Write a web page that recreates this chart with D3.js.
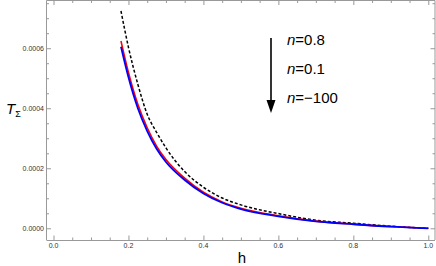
<!DOCTYPE html>
<html><head><meta charset="utf-8">
<script src="https://cdn.jsdelivr.net/npm/d3@7"></script>
<style>body{margin:0;background:#fff}svg{display:block}</style>
</head><body>
<script>
// Data (T_Sigma values in units of 1e-4)
const hVals   = [0.18, 0.2, 0.225, 0.25, 0.275, 0.3, 0.35, 0.4, 0.45, 0.5, 0.6, 0.7, 0.8, 0.9, 1.0];
const nBlue   = [6.05, 5.03, 4.00, 3.24, 2.65, 2.21, 1.61, 1.16, 0.85, 0.64, 0.40, 0.23, 0.135, 0.055, 0];
const nRed    = [6.24, 5.19, 4.13, 3.35, 2.74, 2.29, 1.67, 1.20, 0.88, 0.67, 0.42, 0.24, 0.14, 0.058, 0];
const nDashed = [7.24, 6.03, 4.80, 3.80, 3.20, 2.68, 1.89, 1.37, 1.01, 0.78, 0.49, 0.27, 0.17, 0.07, 0];
const xTicks = [0, 0.2, 0.4, 0.6, 0.8, 1.0];
const yTicks = [0, 0.0002, 0.0004, 0.0006];
const labels = ["n=0.8", "n=0.1", "n=\u2212100"];

const W = 436, H = 266;
const svg = d3.select("body").append("svg").attr("width", W).attr("height", H);
const x = d3.scaleLinear().domain([-0.0187, 1.0179]).range([46.5, 435]);
const y = d3.scaleLinear().domain([-0.000039, 0.000759]).range([240, 0.5]);

const frameCol = "#999";
const g = svg.append("g");
const minorX = d3.range(0, 1.0001, 0.05);
const minorY = d3.range(0, 0.00076, 0.00005);
function isMajor(v, arr){return arr.some(t=>Math.abs(t-v)<1e-9);}
// bottom
const gb = g.append("g").attr("transform","translate(0,240)").call(d3.axisBottom(x).tickValues(minorX).tickSizeOuter(0).tickFormat(""));
gb.select(".domain").attr("stroke", frameCol).attr("d", `M46.5,0.5H435`);
gb.selectAll(".tick line").attr("stroke", frameCol).attr("y2", d=>isMajor(d,xTicks)?-4.5:-2.5);
// top
const gt = g.append("g").attr("transform","translate(0,0.5)").call(d3.axisTop(x).tickValues(minorX).tickSizeOuter(0).tickFormat(""));
gt.select(".domain").attr("stroke", frameCol).attr("d", `M46.5,0H435`);
gt.selectAll(".tick line").attr("stroke", frameCol).attr("y2", d=>isMajor(d,xTicks)?4.5:2.5);
// left
const gl = g.append("g").attr("transform","translate(46.5,0)").call(d3.axisLeft(y).tickValues(minorY).tickSizeOuter(0).tickFormat(""));
gl.select(".domain").attr("stroke", frameCol).attr("d", `M0,0.5V240`);
gl.selectAll(".tick line").attr("stroke", frameCol).attr("x2", d=>isMajor(d,yTicks)?4.5:2.5);
// right
const gr = g.append("g").attr("transform","translate(435,0)").call(d3.axisRight(y).tickValues(minorY).tickSizeOuter(0).tickFormat(""));
gr.select(".domain").attr("stroke", frameCol).attr("d", `M0,0.5V240`);
gr.selectAll(".tick line").attr("stroke", frameCol).attr("x2", d=>isMajor(d,yTicks)?-4.5:-2.5);

// tick labels
const lf = "'Liberation Sans', Arial, sans-serif";
g.selectAll(".xl").data(xTicks).enter().append("text")
  .attr("x", d=>x(d)).attr("y", 248).attr("text-anchor","middle")
  .attr("font-family", lf).attr("font-size", 7).attr("fill","#333")
  .text(d=>d3.format(".1f")(d));
g.selectAll(".yl").data(yTicks).enter().append("text")
  .attr("x", 44).attr("y", d=>y(d)+2.5).attr("text-anchor","end")
  .attr("font-family", lf).attr("font-size", 7).attr("fill","#333")
  .text(d=>d3.format(".4f")(d));

// axis titles
svg.append("text").attr("x", 242).attr("y", 263).attr("text-anchor","middle")
  .attr("font-family", lf).attr("font-size", 15).text("h");
const tt = svg.append("text").attr("x", 6).attr("y", 114).attr("font-family", lf).attr("font-size", 15);
tt.append("tspan").attr("font-style","italic").text("T");
tt.append("tspan").attr("font-size", 9).attr("dy", 3).text("\u03A3");

// curves
const line = d3.line().x(d=>x(d[0])).y(d=>y(d[1]*1e-4)).curve(d3.curveMonotoneX);
const plot = svg.append("g");
plot.append("path").datum(hVals.map((h,i)=>[h,nDashed[i]])).attr("d", line)
  .attr("fill","none").attr("stroke","#000").attr("stroke-width",1.5).attr("stroke-dasharray","3,2");
plot.append("path").datum(hVals.map((h,i)=>[h,nRed[i]])).attr("d", line)
  .attr("fill","none").attr("stroke","#f00").attr("stroke-width",1.6);
plot.append("path").datum(hVals.map((h,i)=>[h,nBlue[i]])).attr("d", line)
  .attr("fill","none").attr("stroke","#00f").attr("stroke-width",1.8);

// annotation arrow
svg.append("line").attr("x1",271).attr("y1",38).attr("x2",271).attr("y2",103)
  .attr("stroke","#000").attr("stroke-width",1.6);
svg.append("path").attr("d","M266.5,100L275.5,100L271,113Z").attr("fill","#000");

const ly = [45, 74, 103];
labels.forEach((t,i)=>{
  const tx = svg.append("text").attr("x", 287).attr("y", ly[i]).attr("font-family", lf).attr("font-size", 15);
  tx.append("tspan").attr("font-style","italic").text("n");
  tx.append("tspan").text(t.slice(1));
});
</script>
</body></html>
